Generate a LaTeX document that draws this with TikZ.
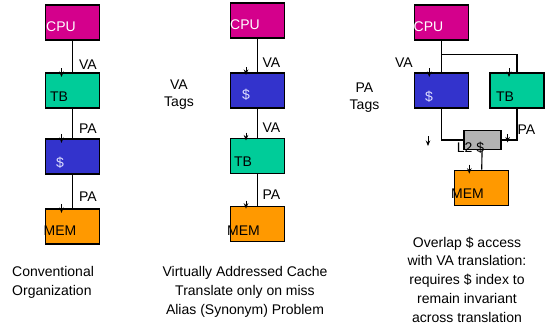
\documentclass[tikz,border=0pt]{standalone}
\usepackage{fontspec}
\setmainfont{Liberation Sans}
\usetikzlibrary{calc,arrows.meta}
\definecolor{cpucol}{RGB}{212,0,140}
\definecolor{tbcol}{RGB}{0,204,153}
\definecolor{cachecol}{RGB}{51,51,204}
\definecolor{memcol}{RGB}{255,153,0}
\definecolor{l2col}{RGB}{178,178,178}
\definecolor{dollartxt}{RGB}{224,224,255}
\begin{document}
\begin{tikzpicture}[x=1pt, y=-1pt,
  font=\fontsize{14}{19}\selectfont,
  unit/.style={draw=black, line width=1.6pt, minimum width=54pt, minimum height=35pt, inner sep=0pt},
  smallunit/.style={draw=black, line width=1.6pt, minimum width=37pt, minimum height=19pt, inner sep=0pt},
  wire/.style={line width=1.1pt},
  tick/.style={line width=0.9pt, -{Stealth[length=5.5pt,width=4.5pt]}},
  txt/.style={inner sep=0pt},
  caption/.style={inner sep=0pt, font=\fontsize{14}{18.8}\selectfont}]
\useasboundingbox (0,0) rectangle (545,324);

% ---- conventional organization ----
\node[unit, fill=cpucol]   (cpu1) at (72.5,22.3)  {};
\node[unit, fill=tbcol]    (tb1)  at (72.5,90.3)  {};
\node[unit, fill=cachecol] (ca1)  at (72.5,156.2) {};
\node[unit, fill=memcol]   (mem1) at (72.5,226.2) {};
\node[txt, text=white]     (cpu1t) at (61,27)  {CPU};
\node[txt]                 (tb1t)  at (59,97)  {TB};
\node[txt, text=dollartxt] (ca1t)  at (60,163) {\$};
\node[txt]                 (mem1t) at (60,231) {MEM};
\draw[wire] (cpu1) -- (tb1);
\draw[wire] (tb1) -- (ca1);
\draw[wire] (ca1) -- (mem1);
\foreach \b in {tb1,ca1,mem1}
  \draw[tick] ($(\b.north)+(-11,-4)$) -- ($(\b.north)+(-11,5)$);
\node[txt] (l1a) at (88,65)  {VA};
\node[txt] (l1b) at (88,129) {PA};
\node[txt] (l1c) at (88,197) {PA};

% ---- virtually addressed cache ----
\node[unit, fill=cpucol]   (cpu2) at (257.5,20.5)  {};
\node[unit, fill=cachecol] (ca2)  at (257.5,90.3)  {};
\node[unit, fill=tbcol]    (tb2)  at (257.5,155.8) {};
\node[unit, fill=memcol]   (mem2) at (257.5,224)   {};
\node[txt, text=white]     (cpu2t) at (245,25)   {CPU};
\node[txt, text=dollartxt] (ca2t)  at (246,95)   {\$};
\node[txt]                 (tb2t)  at (243,162)  {TB};
\node[txt]                 (mem2t) at (243.5,231) {MEM};
\draw[wire] (cpu2) -- (ca2);
\draw[wire] (ca2) -- (tb2);
\draw[wire] (tb2) -- (mem2);
\foreach \b in {ca2,tb2,mem2}
  \draw[tick] ($(\b.north)+(-11.5,-5)$) -- ($(\b.north)+(-11.5,3)$);
\node[txt] (l2a) at (271.5,63)  {VA};
\node[txt] (l2b) at (271.5,128) {VA};
\node[txt] (l2c) at (271.5,195) {PA};
\node[txt, align=center] (tags2) at (179,94.5) {VA\\[-2pt]Tags};

% ---- overlapped access ----
\node[unit, fill=cpucol]   (cpu3) at (441.3,22.3) {};
\node[unit, fill=cachecol] (ca3)  at (441.3,90.3) {};
\node[unit, fill=tbcol]    (tb3)  at (517,90.3)   {};
\node[smallunit, fill=l2col] (l2) at (482.3,140)  {};
\node[unit, fill=memcol]   (mem3) at (481.3,188)  {};
\node[txt, text=white]     (cpu3t) at (428.5,27) {CPU};
\node[txt, text=dollartxt] (ca3t)  at (429,97)   {\$};
\node[txt]                 (tb3t)  at (505,97)   {TB};
\node[txt]                 (mem3t) at (467.5,194) {MEM};
\node[txt]                 (l2t)   at (470.5,147.5) {L2 \$};
\draw[wire] (cpu3) -- (ca3);
\draw[wire] ($(cpu3.south)!0.45!(ca3.north)$) -| (tb3.north);
\draw[wire] (ca3.south) |- (l2.west);
\draw[wire] (tb3.south) |- (l2.east);
\draw[wire] (l2) -- (mem3);
\draw[tick] ($(ca3.north)+(-12,-4)$) -- ($(ca3.north)+(-12,5)$);
\draw[tick] ($(tb3.north)+(-8,-4)$) -- ($(tb3.north)+(-8,5)$);
\draw[tick] ($(mem3.north)+(-12,-5)$) -- ($(mem3.north)+(-12,4)$);
\draw[tick] ($(l2.east)+(6,-6)$) -- ($(l2.east)+(6,2.5)$);
\draw[tick] ($(l2.west)+(-35,-4)$) -- ($(l2.west)+(-35,6)$);
\node[txt] (l3a) at (404,63)   {VA};
\node[txt] (l3b) at (526.5,130) {PA};
\node[txt, align=center] (tags3) at (364.5,97.5) {PA\\[-2pt]Tags};

% ---- captions ----
\node[caption, anchor=west, align=left] (cap1) at (12,282) {Conventional\\Organization};
\node[caption, align=center] (cap2) at (245,292) {Virtually Addressed Cache\\Translate only on miss\\Alias (Synonym) Problem};
\node[caption, align=center] (cap3) at (467,279.5) {Overlap \$ access\\with VA translation:\\requires \$ index to\\remain invariant\\across translation};
\end{tikzpicture}
\end{document}
